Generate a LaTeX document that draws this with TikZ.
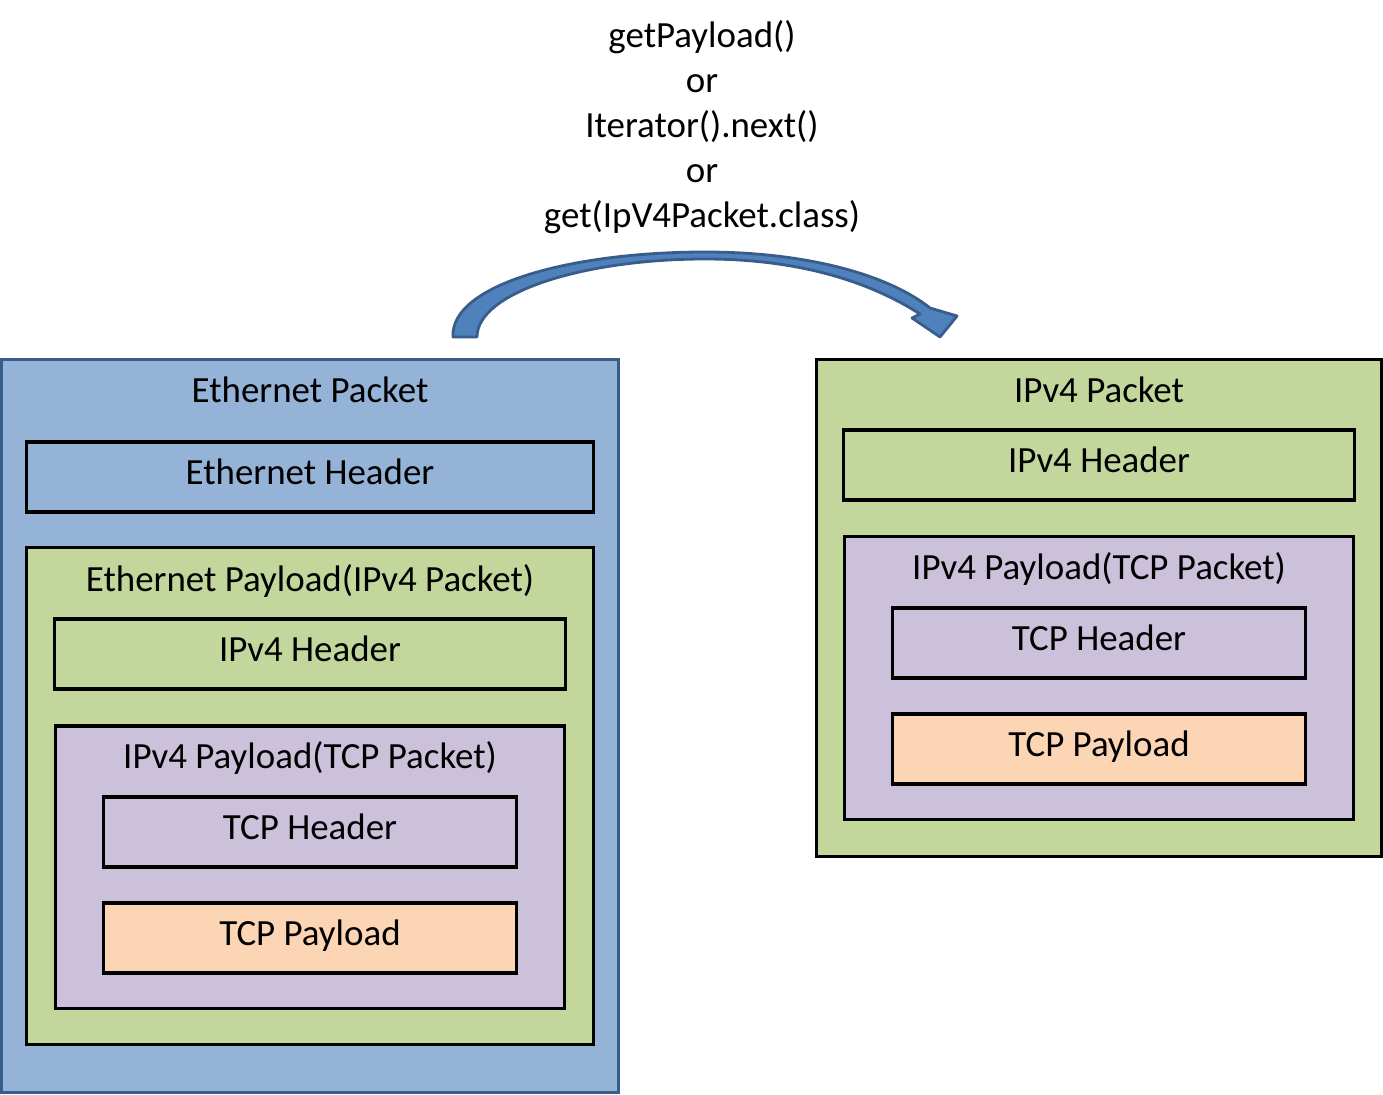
\documentclass[tikz,border=0pt]{standalone}
\usepackage{fontspec}
\setmainfont{Carlito}
\usepackage{tikz}
\usetikzlibrary{positioning}
\definecolor{ethblue}{HTML}{95B3D7}
\definecolor{ethline}{HTML}{385D8A}
\definecolor{ipgreen}{HTML}{C3D69B}
\definecolor{tcppurple}{HTML}{CCC1DA}
\definecolor{payorange}{HTML}{FCD5B5}
\definecolor{arrowblue}{HTML}{4F81BD}

\begin{document}
\begin{tikzpicture}[x=0.01cm,y=-0.01cm,
  every node/.style={font=\fontsize{10.5}{12.8}\selectfont},
  pkt/.style={draw,line width=0.9pt,inner sep=0pt},
  hdr/.style={pkt,minimum height=0.7cm,text height=0.66em,text depth=0.22em},
  title/.style={anchor=base}]
  \useasboundingbox (0,0) rectangle (1383,1094);
  % left: ethernet packet
  \node[pkt,draw=ethline,fill=ethblue,minimum width=6.16cm,minimum height=7.32cm] (eth) at (310,726) {};
  \node[title] (ethtitle) at (310,402) {Ethernet Packet};
  \node[hdr,fill=ethblue,minimum width=5.66cm] (ethhdr) at (310,477) {Ethernet Header};
  \node[pkt,fill=ipgreen,minimum width=5.66cm,minimum height=4.97cm] (ethpay) at (310,796) {};
  \node[title] (ethpaytitle) at (310,591) {Ethernet Payload(IPv4 Packet)};
  \node[hdr,fill=ipgreen,minimum width=5.11cm] (iphdrL) at (310,654) {IPv4 Header};
  \node[pkt,fill=tcppurple,minimum width=5.08cm,minimum height=2.82cm] (ippayL) at (310,867) {};
  \node[title] (ippaytitleL) at (310,768) {IPv4 Payload(TCP Packet)};
  \node[hdr,fill=tcppurple,minimum width=4.12cm] (tcphdrL) at (310,832) {TCP Header};
  \node[hdr,fill=payorange,minimum width=4.12cm] (tcppayL) at (310,938) {TCP Payload};
  % right: ipv4 packet
  \node[pkt,fill=ipgreen,minimum width=5.64cm,minimum height=4.96cm] (ippkt) at (1099,608) {};
  \node[title] (ippkttitle) at (1099,402) {IPv4 Packet};
  \node[hdr,fill=ipgreen,minimum width=5.10cm] (iphdrR) at (1099,465) {IPv4 Header};
  \node[pkt,fill=tcppurple,minimum width=5.08cm,minimum height=2.83cm] (ippayR) at (1099,678) {};
  \node[title] (ippaytitleR) at (1099,579) {IPv4 Payload(TCP Packet)};
  \node[hdr,fill=tcppurple,minimum width=4.12cm] (tcphdrR) at (1099,643) {TCP Header};
  \node[hdr,fill=payorange,minimum width=4.12cm] (tcppayR) at (1099,749) {TCP Payload};
  % curved block arrow
  \filldraw[fill=arrowblue,draw=ethline,line width=0.8pt,line join=round]
    (453,337) .. controls (450,285) and (570,252) .. (705,252)
    .. controls (810,252) and (890,276) .. (930,308)
    -- (957,316) -- (940,337) -- (912,318) -- (920,314)
    .. controls (870,282) and (800,259) .. (705,259)
    .. controls (585,259) and (477,292) .. (477,337) -- cycle;
  \node[align=center] (calls) at (702,127) {getPayload()\\or\\Iterator().next()\\or\\get(IpV4Packet.class)};
\end{tikzpicture}
\end{document}
